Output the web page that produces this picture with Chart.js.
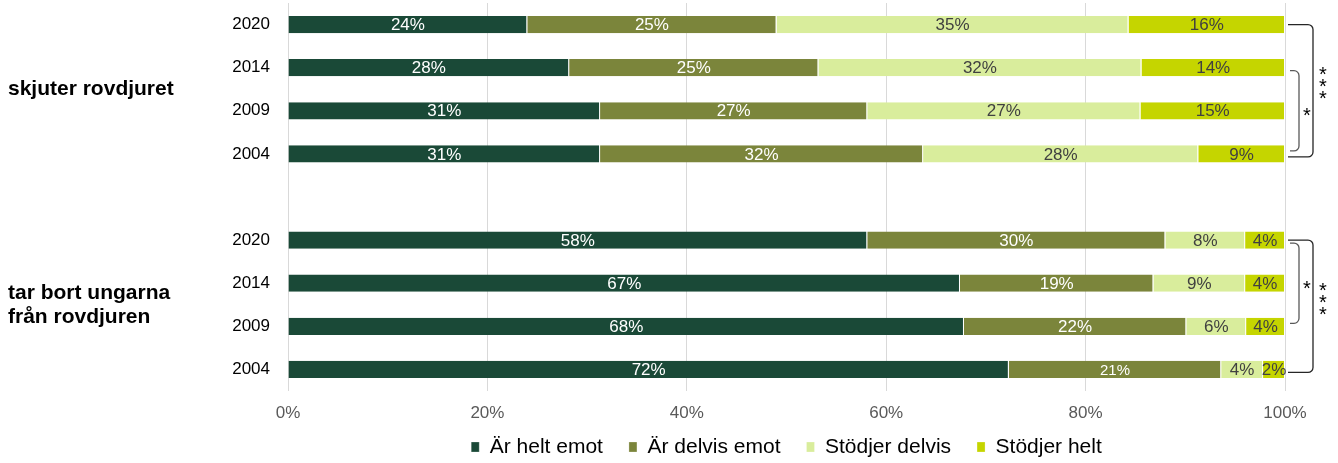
<!DOCTYPE html>
<html>
<head>
<meta charset="utf-8">
<script src="https://cdn.jsdelivr.net/npm/chart.js@4"></script>
<style>
  html, body { margin: 0; padding: 0; background: #fff; }
  #wrap { width: 1338px; height: 463px; }
</style>
</head>
<body>
<div id="wrap"><canvas id="c" width="1338" height="463"></canvas></div>
<script>
// years, with an empty row between the two questions
const categories = ['2020', '2014', '2009', '2004', '', '2020', '2014', '2009', '2004'];
const seriesNames = ['Är helt emot', 'Är delvis emot', 'Stödjer delvis', 'Stödjer helt'];
const heltEmot    = [24.0, 28.2, 31.3, 31.3, null, 58.1, 67.4, 67.8, 72.3];
const delvisEmot  = [25.0, 25.0, 26.8, 32.4, null, 29.9, 19.4, 22.3, 21.3];
const stodjDelvis = [35.3, 32.4, 27.4, 27.6, null, 8.0, 9.2, 6.0, 4.2];
const stodjHelt   = [15.7, 14.4, 14.5, 8.7, null, 4.0, 4.0, 3.9, 2.2];
const xTicks = [0, 20, 40, 60, 80, 100];
const groupLabels = [
  { rows: [1, 2], lines: ['skjuter rovdjuret'] },
  { rows: [6, 7], lines: ['tar bort ungarna', 'från rovdjuren'] }
];
const brackets = [
  { from: 0, to: 3, outer: true, stars: 3 },
  { from: 1, to: 3, outer: false, stars: 1 },
  { from: 5, to: 8, outer: true, stars: 3 },
  { from: 5, to: 7, outer: false, stars: 1 }
];

const colors = ['#1a4937', '#7b853b', '#d9ed9c', '#c5d500'];
const labelColors = ['#ffffff', '#ffffff', '#404040', '#404040'];
const FONT = '"Liberation Sans", Arial, sans-serif';

Chart.defaults.font.family = FONT;

const valueLabels = {
  id: 'valueLabels',
  afterDatasetsDraw(chart) {
    const ctx = chart.ctx;
    ctx.save();
    ctx.textAlign = 'center';
    ctx.textBaseline = 'middle';
    chart.data.datasets.forEach((ds, di) => {
      const meta = chart.getDatasetMeta(di);
      meta.data.forEach((bar, i) => {
        const v = ds.data[i];
        if (v == null) return;
        // the 21% in the last row is set smaller in the original
        const size = (di === 1 && i === 8) ? 15 : 17;
        ctx.font = size + 'px ' + FONT;
        ctx.fillStyle = labelColors[di];
        ctx.fillText(Math.round(v) + '%', (bar.x + bar.base) / 2, bar.y + 1);
      });
    });
    ctx.restore();
  }
};

// put the legend under the plot area, at a fixed height
const legendPlace = {
  id: 'legendPlace',
  afterLayout(chart) {
    const lg = chart.legend;
    if (!lg) return;
    const ca = chart.chartArea;
    lg.left = ca.left;
    lg.right = ca.right;
    lg.width = ca.right - ca.left;
    lg.top = 447 - lg.options.labels.padding - 10.5;
    lg.bottom = chart.height;
    lg.height = lg.bottom - lg.top;
  }
};

const extras = {
  id: 'extras',
  afterDraw(chart) {
    const ctx = chart.ctx;
    const y = chart.scales.y;
    const x = chart.scales.x;
    ctx.save();
    // group labels on the left
    ctx.fillStyle = '#000';
    ctx.font = 'bold 21px ' + FONT;
    ctx.textAlign = 'left';
    ctx.textBaseline = 'middle';
    groupLabels.forEach(g => {
      const mid = (y.getPixelForValue(g.rows[0]) + y.getPixelForValue(g.rows[1])) / 2;
      const lh = 24;
      g.lines.forEach((t, k) => {
        ctx.fillText(t, 8, mid + (k - (g.lines.length - 1) / 2) * lh);
      });
    });
    // significance brackets
    const right = x.getPixelForValue(100);
    brackets.forEach(b => {
      let y0 = y.getPixelForValue(b.from);
      let y1 = y.getPixelForValue(b.to);
      let xs, xv;
      if (b.outer) { y1 += 3; xs = right + 3; xv = right + 28; ctx.strokeStyle = '#262626'; }
      else { y0 += 3; y1 -= 3; xs = right + 5; xv = right + 14; ctx.strokeStyle = '#595959'; }
      const r = 5;
      ctx.lineWidth = 1.3;
      ctx.beginPath();
      ctx.moveTo(xs, y0);
      ctx.arcTo(xv, y0, xv, y0 + r, r);
      ctx.lineTo(xv, y1 - r);
      ctx.arcTo(xv, y1, xs, y1, r);
      ctx.lineTo(xs, y1);
      ctx.stroke();
      ctx.fillStyle = '#000';
      ctx.font = '20px ' + FONT;
      ctx.textAlign = 'center';
      ctx.textBaseline = 'middle';
      const mid = (y0 + y1) / 2;
      if (b.stars === 1) {
        ctx.fillText('*', xv + 8, mid + 6);
      } else {
        for (let k = 0; k < 3; k++) {
          ctx.fillText('*', xv + 10, mid - 3 + (k - 1) * 12);
        }
      }
    });
    ctx.restore();
  }
};

const seriesData = [heltEmot, delvisEmot, stodjDelvis, stodjHelt];

new Chart(document.getElementById('c'), {
  type: 'bar',
  data: {
    labels: categories,
    datasets: seriesData.map((d, i) => ({
      label: seriesNames[i],
      data: d,
      backgroundColor: colors[i],
      borderColor: '#ffffff',
      borderWidth: { left: 0, right: 1, top: 0, bottom: 0 },
      borderSkipped: false,
      barPercentage: 0.4,
      categoryPercentage: 1.0
    }))
  },
  options: {
    indexAxis: 'y',
    responsive: false,
    animation: false,
    layout: { padding: { top: 3, right: 53, left: 0, bottom: 8 } },
    scales: {
      x: {
        stacked: true,
        min: 0,
        max: 100,
        afterBuildTicks: s => { s.ticks = xTicks.map(v => ({ value: v })); },
        afterFit: s => { s.height = 34; },
        grid: { color: '#d9d9d9', drawTicks: false, lineWidth: 1 },
        border: { display: false },
        ticks: {
          padding: 12,
          color: '#595959',
          font: { size: 17 },
          callback: v => v + '%'
        }
      },
      y: {
        stacked: true,
        grid: { display: false, drawTicks: false },
        border: { display: false },
        afterFit: s => { s.width = 288; s.paddingTop = 0; s.paddingBottom = 0; },
        ticks: { padding: 18, color: '#000', font: { size: 17 } }
      }
    },
    plugins: {
      legend: {
        position: 'bottom',
        maxHeight: 30,
        labels: {
          boxWidth: 8,
          boxHeight: 10,
          color: '#000',
          padding: 26,
          font: { size: 21 }
        }
      },
      tooltip: { enabled: false }
    }
  },
  plugins: [valueLabels, legendPlace, extras]
});
</script>
</body>
</html>
